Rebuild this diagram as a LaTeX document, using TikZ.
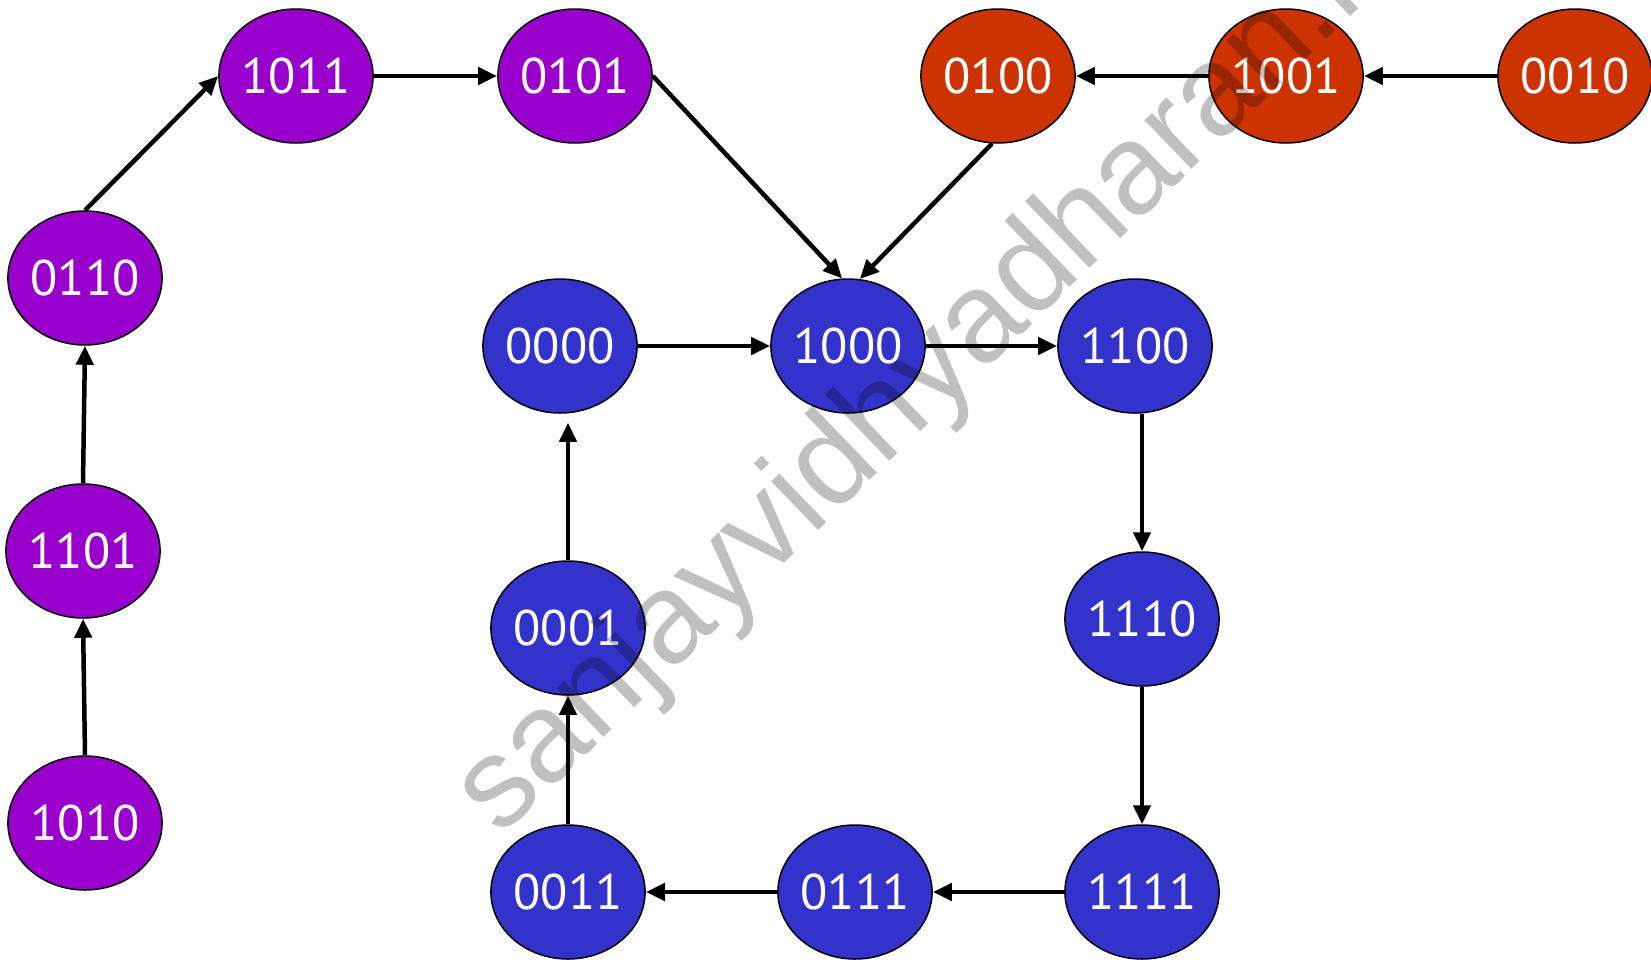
\documentclass[tikz,border=0pt]{standalone}
\usepackage{fontspec}
\setmainfont{PT Sans}
\newfontfamily\wmfont{Liberation Sans}
\usetikzlibrary{arrows.meta,calc,shapes.geometric}
\definecolor{purp}{RGB}{153,0,204}
\definecolor{rust}{RGB}{204,51,0}
\definecolor{blu}{RGB}{51,51,204}
\definecolor{wm}{RGB}{192,192,192}
\begin{document}
\begin{tikzpicture}[x=1pt,y=-1pt,
  st/.style={ellipse,draw=black,line width=1.5pt,minimum width=150pt,minimum height=134pt,inner sep=0pt,text=white,font=\fontsize{50}{50}\selectfont},
  pst/.style={st,fill=purp},
  rst/.style={st,fill=rust},
  bst/.style={st,fill=blu},
  arr/.style={line width=4.5pt,-{Triangle[length=19pt,width=17pt]}}]
\useasboundingbox (0,0) rectangle (1651,959);
\node[pst] (n1011) at (296,76) {1011};
\node[pst] (n0101) at (575,76) {0101};
\node[rst] (n0100) at (998,76) {0100};
\node[rst] (n1001) at (1286,76) {1001};
\node[rst] (n0010) at (1575,76) {0010};
\node[pst] (n0110) at (85,278) {0110};
\node[pst] (n1101) at (83,551) {1101};
\node[pst] (n1010) at (85,823) {1010};
\node[bst] (n0000) at (560,346) {0000};
\node[bst] (n1000) at (848,346) {1000};
\node[bst] (n1100) at (1135,346) {1100};
\node[bst] (n1110) at (1142,619) {1110};
\node[bst] (n0001) at (568,628) {0001};
\node[bst] (n0011) at (568,892) {0011};
\node[bst] (n0111) at (855,892) {0111};
\node[bst] (n1111) at (1142,892) {1111};
% connectors
\draw[arr] (n0110.north) -- (n1011.west);
\draw[arr] (n1011.east) -- (n0101.west);
\draw[arr] (n0101.east) -- (n1000.95);
\draw[arr] (n0100.265) -- (n1000.80);
\draw[arr] (n1001.west) -- (n0100.east);
\draw[arr] (n0010.west) -- (n1001.east);
\draw[arr] (n1101.north) -- (n0110.south);
\draw[arr] (n1010.north) -- (n1101.south);
\draw[arr] (n0000.east) -- (n1000.west);
\draw[arr] (n1000.east) -- (n1100.west);
\draw[arr] (n1110 |- n1100.south) -- (n1110.north);
\draw[arr] (n1110.south) -- (n1111.north);
\draw[arr] (n1111.west) -- (n0111.east);
\draw[arr] (n0111.west) -- (n0011.east);
\draw[arr] (n0011.north) -- (n0001.south);
\draw[arr,shorten >=9pt] (n0001.north) -- (n0001 |- n0000.south);
% watermark
\begin{scope}[blend mode=multiply]
\clip (0,0) rectangle (1651,959);
\node[anchor=base west,rotate=44,text=wm,inner sep=0pt,font=\wmfont\fontsize{128}{128}\selectfont] (wmk) at (500,838) {sanjayvidhyadharan.in};
\end{scope}
\end{tikzpicture}
\end{document}
